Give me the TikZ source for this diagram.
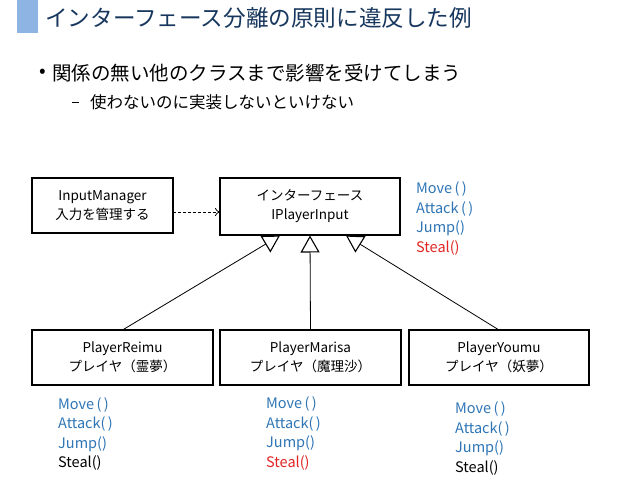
\documentclass[tikz,border=0pt]{standalone}
\usepackage{fontspec}
\setmainfont{Noto Sans CJK JP}
\usetikzlibrary{arrows.meta}
\definecolor{titlenavy}{RGB}{23,55,94}
\definecolor{barblue}{RGB}{142,180,227}
\definecolor{mblue}{RGB}{46,117,182}
\definecolor{mred}{RGB}{226,36,36}
\tikzset{
  box/.style={draw=black, line width=1.3pt, inner sep=0pt, outer sep=0pt,
    align=center, font=\fontsize{13.5}{19}\selectfont, fill=white},
  methods/.style={anchor=west, inner sep=0pt, align=left,
    font=\fontsize{14.5}{19.4}\selectfont},
  gen/.style={line width=0.8pt, -{Triangle[open, length=17pt, width=19pt, fill=white, line width=1.1pt]}},
  dep/.style={line width=0.8pt, dash pattern=on 3pt off 2pt, -{To[length=5pt, width=8pt]}},
}
\begin{document}
\begin{tikzpicture}[x=1pt,y=-1pt]
\useasboundingbox (0,0) rectangle (638,479);
\fill[white] (0,0) rectangle (638,479);
% title
\fill[barblue] (17,0) rectangle (38,33);
\node[anchor=west, inner sep=0pt, text=titlenavy, font=\fontsize{22.6}{26}\selectfont] (title) at (45,18) {インターフェース分離の原則に違反した例};
% bullets
\node[inner sep=0pt, font=\fontsize{19.5}{22}\selectfont] (bul) at (43,73) {•};
\node[anchor=west, inner sep=0pt, font=\fontsize{19.5}{22}\selectfont] (b1) at (52,73) {関係の無い他のクラスまで影響を受けてしまう};
\node[inner sep=0pt, minimum width=7pt, minimum height=1pt, fill=black] (dash) at (75,102) {};
\node[anchor=west, inner sep=0pt, font=\fontsize{16.5}{20}\selectfont] (b2) at (90,102) {使わないのに実装しないといけない};
% boxes
\node[box, minimum width=141pt, minimum height=55pt] (im) at (102.5,205.5) {InputManager\\入力を管理する};
\node[box, minimum width=180pt, minimum height=57pt] (ip) at (310,206.5) {インターフェース\\IPlayerInput};
\node[box, minimum width=181pt, minimum height=55pt] (re) at (122.5,357.5) {PlayerReimu\\プレイヤ（霊夢）};
\node[box, minimum width=181pt, minimum height=55pt] (ma) at (310.5,357.5) {PlayerMarisa\\プレイヤ（魔理沙）};
\node[box, minimum width=180pt, minimum height=55pt] (yo) at (499,357.5) {PlayerYoumu\\プレイヤ（妖夢）};
% connectors
\coordinate (t1) at (280,235.5);
\coordinate (t2) at (310,235.5);
\coordinate (t3) at (346,235.5);
\draw[gen] (re.north) -- (t1);
\draw[gen] (ma.north) -- (t2);
\draw[gen] (yo.north) -- (t3);
\draw[dep] (im.east |- 0,212) -- (ip.west |- 0,212);
% method lists
\node[methods] (mip) at (416,218.5) {\textcolor{mblue}{Move\,(\,)}\\\textcolor{mblue}{Attack\,(\,)}\\\textcolor{mblue}{Jump()}\\\textcolor{mred}{Steal()}};
\node[methods] (mre) at (58,434) {\textcolor{mblue}{Move\,(\,)}\\\textcolor{mblue}{Attack(\,)}\\\textcolor{mblue}{Jump()}\\Steal()};
\node[methods] (mma) at (266,433.5) {\textcolor{mblue}{Move\,(\,)}\\\textcolor{mblue}{Attack(\,)}\\\textcolor{mblue}{Jump()}\\\textcolor{mred}{Steal()}};
\node[methods] (myo) at (455,438.5) {\textcolor{mblue}{Move\,(\,)}\\\textcolor{mblue}{Attack(\,)}\\\textcolor{mblue}{Jump()}\\Steal()};
\end{tikzpicture}
\end{document}
